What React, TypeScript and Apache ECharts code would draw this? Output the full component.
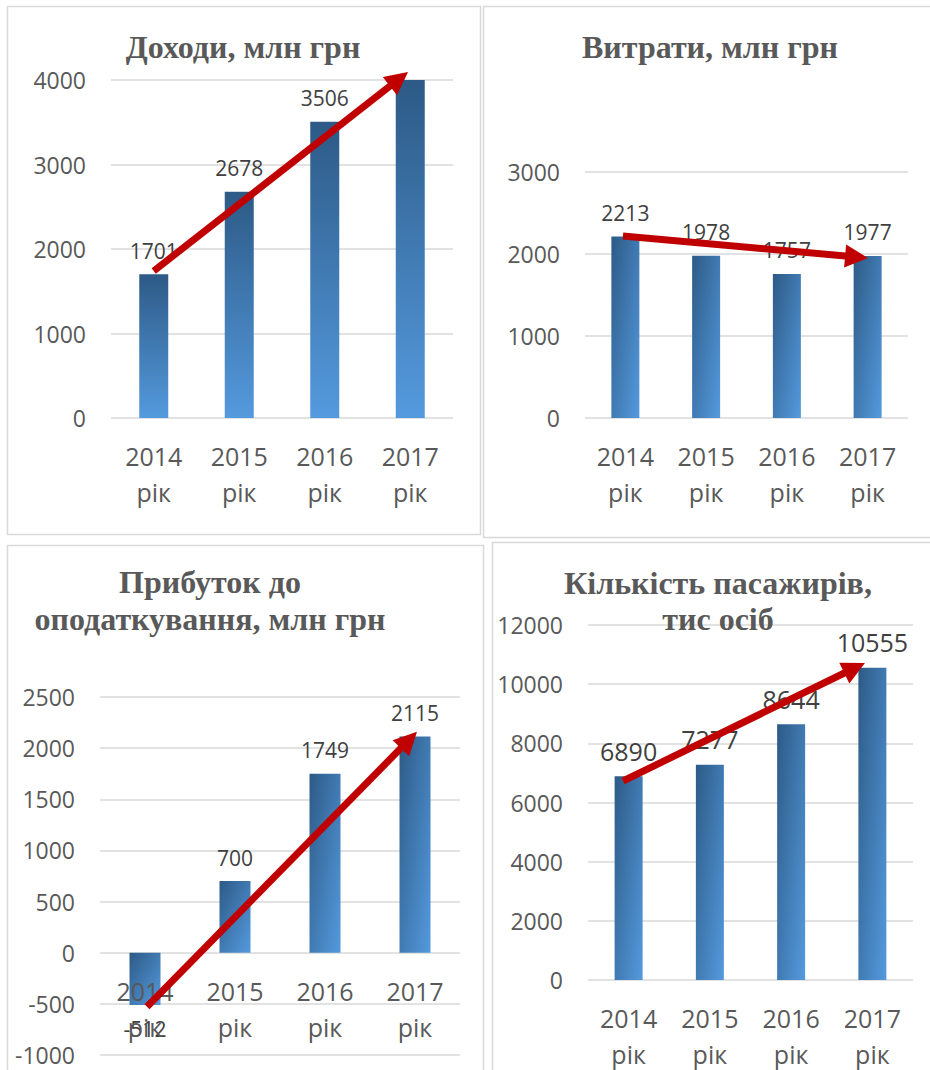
import React, { useEffect, useRef } from 'react';
import * as echarts from 'echarts';

// ---- data ----
const years = ['2014 рік', '2015 рік', '2016 рік', '2017 рік'];
const revenue = [1701, 2678, 3506, 4010];
const expenses = [2213, 1978, 1757, 1977];
const profit = [-512, 700, 1749, 2115];
const passengers = [6890, 7277, 8644, 10555];

// y-axis ticks: [min, max, interval]
const revenueTicks = [0, 4000, 1000];
const expensesTicks = [0, 3000, 1000];
const profitTicks = [-1000, 2500, 500];
const passengersTicks = [0, 12000, 2000];

// trend arrows in data space: [[categoryPos, value] tail, [categoryPos, value] tip]
const revenueArrow = [[0, 1740], [2.974, 4095]];
const expensesArrow = [[-0.03, 2220], [3.005, 1951]];
const profitArrow = [[0.022, -528], [3.022, 2160]];
const passengersArrow = [[-0.069, 6727], [2.909, 10716]];

const titles = [
  ['Доходи, млн грн'],
  ['Витрати, млн грн'],
  ['Прибуток до', 'оподаткування, млн грн'],
  ['Кількість пасажирів,', 'тис осіб'],
];

const SANS = '"Open Sans", "Noto Sans", sans-serif';
const SERIF = '"Liberation Serif", "DejaVu Serif", serif';

type Panel = {
  title: string[];
  titleX: number;
  titleY: number[];
  values: number[];
  ticks: number[];
  arrow: number[][];
  grid: { left: number; top: number; width: number; height: number };
  box: number[];
  barWidth: number;
  labelSize: number;
  vertical: boolean;
  hideLabel: number[];
  belowLabel: number[];
  xLabelOnTop: boolean;
};

const panels: Panel[] = [
  {
    title: titles[0], titleX: 243, titleY: [47], values: revenue, ticks: revenueTicks, arrow: revenueArrow,
    grid: { left: 111, top: 80, width: 342, height: 338 }, box: [7, 6, 473, 528],
    barWidth: 29, labelSize: 21, vertical: true, hideLabel: [3], belowLabel: [], xLabelOnTop: false,
  },
  {
    title: titles[1], titleX: 710, titleY: [47], values: expenses, ticks: expensesTicks, arrow: expensesArrow,
    grid: { left: 585, top: 172, width: 323, height: 246 }, box: [483, 6, 460, 531],
    barWidth: 28, labelSize: 21, vertical: false, hideLabel: [], belowLabel: [], xLabelOnTop: false,
  },
  {
    title: titles[2], titleX: 210, titleY: [582, 619], values: profit, ticks: profitTicks, arrow: profitArrow,
    grid: { left: 100, top: 697, width: 360, height: 358 }, box: [7, 545, 476, 540],
    barWidth: 31, labelSize: 21, vertical: false, hideLabel: [], belowLabel: [0], xLabelOnTop: true,
  },
  {
    title: titles[3], titleX: 718, titleY: [583, 619], values: passengers, ticks: passengersTicks, arrow: passengersArrow,
    grid: { left: 588, top: 625, width: 325, height: 355 }, box: [492, 542, 450, 540],
    barWidth: 28, labelSize: 25, vertical: false, hideLabel: [], belowLabel: [], xLabelOnTop: false,
  },
];

const DARK = '#2d5a86';
const LIGHT = '#549ade';

function buildOption(): any {
  const grid: any[] = [];
  const xAxis: any[] = [];
  const yAxis: any[] = [];
  const series: any[] = [];
  const graphic: any[] = [];

  panels.forEach((p, i) => {
    grid.push({ ...p.grid, containLabel: false, outerBoundsMode: 'none' });
    const [yMin, yMax] = p.ticks;
    // place the category axis on the zero line when the range goes below zero
    const zeroOffset = yMin < 0 ? -p.grid.height * (0 - yMin) / (yMax - yMin) : 0;
    xAxis.push({
      type: 'category',
      gridIndex: i,
      data: years,
      position: 'bottom',
      offset: zeroOffset,
      z: p.xLabelOnTop ? 4 : 0,
      axisLine: { show: false, onZero: false },
      axisTick: { show: false },
      splitLine: { show: false },
      axisLabel: {
        interval: 0,
        margin: 20,
        fontSize: 25,
        lineHeight: 36,
        color: '#595959',
        fontFamily: SANS,
        hideOverlap: false,
        formatter: (v: string) => v.replace(' ', '\n'),
      },
    });
    xAxis.push({
      type: 'value',
      gridIndex: i,
      min: -0.5,
      max: 3.5,
      show: false,
      axisLine: { onZero: false },
      splitLine: { show: false },
    });
    yAxis.push({
      type: 'value',
      gridIndex: i,
      min: p.ticks[0],
      max: p.ticks[1],
      interval: p.ticks[2],
      axisLine: { show: false, onZero: false },
      axisTick: { show: false },
      splitLine: { show: true, lineStyle: { color: '#d9d9d9', width: 1.5 } },
      axisLabel: {
        margin: 25,
        fontSize: 23,
        color: '#595959',
        fontFamily: SANS,
        formatter: (v: number) => String(v),
      },
    });

    const gradient = p.vertical
      ? new echarts.graphic.LinearGradient(0, 0, 0, 1, [
          { offset: 0, color: DARK },
          { offset: 1, color: LIGHT },
        ])
      : new echarts.graphic.LinearGradient(0, 0, 1, 1, [
          { offset: 0, color: DARK },
          { offset: 1, color: LIGHT },
        ]);

    series.push({
      type: 'bar',
      xAxisIndex: i * 2,
      yAxisIndex: i,
      barWidth: p.barWidth,
      z: 2,
      silent: true,
      itemStyle: { color: gradient },
      label: {
        show: true,
        position: 'top',
        distance: 13,
        fontSize: p.labelSize,
        color: '#404040',
        fontFamily: SANS,
      },
      data: p.values.map((v, k) => {
        const item: any = { value: v };
        if (p.hideLabel.includes(k)) item.label = { show: false };
        if (p.belowLabel.includes(k)) item.label = { position: 'bottom' };
        return item;
      }),
    });

    series.push({
      type: 'custom',
      xAxisIndex: i * 2 + 1,
      yAxisIndex: i,
      z: 6,
      silent: true,
      clip: false,
      data: [[p.arrow[0][0], p.arrow[0][1], p.arrow[1][0], p.arrow[1][1]]],
      encode: { x: [0, 2], y: [1, 3] },
      renderItem: (params: any, api: any) => {
        const a = api.coord([api.value(0), api.value(1)]);
        const b = api.coord([api.value(2), api.value(3)]);
        const dx = b[0] - a[0];
        const dy = b[1] - a[1];
        const len = Math.sqrt(dx * dx + dy * dy);
        const ux = dx / len;
        const uy = dy / len;
        const L = 23;
        const W = 11.5;
        const bx = b[0] - ux * L;
        const by = b[1] - uy * L;
        const nx = -uy;
        const ny = ux;
        return {
          type: 'group',
          children: [
            {
              type: 'line',
              shape: { x1: a[0], y1: a[1], x2: bx + ux * 3, y2: by + uy * 3 },
              style: { stroke: '#c00000', lineWidth: 7 },
            },
            {
              type: 'polygon',
              shape: {
                points: [
                  [b[0], b[1]],
                  [bx + nx * W, by + ny * W],
                  [bx - nx * W, by - ny * W],
                ],
              },
              style: { fill: '#c00000' },
            },
          ],
        };
      },
    });

    graphic.push({
      type: 'rect',
      z: -10,
      silent: true,
      shape: { x: p.box[0] + 0.5, y: p.box[1] + 0.5, width: p.box[2], height: p.box[3] },
      style: { fill: '#ffffff', stroke: '#d9d9d9', lineWidth: 1.5 },
    });
    p.title.forEach((t, k) => {
      graphic.push({
        type: 'text',
        z: 10,
        silent: true,
        x: p.titleX,
        y: p.titleY[k],
        style: {
          text: t,
          fill: '#595959',
          font: `bold 32px ${SERIF}`,
          textAlign: 'center',
          textVerticalAlign: 'middle',
        },
      });
    });
  });

  return {
    animation: false,
    backgroundColor: '#ffffff',
    grid,
    xAxis,
    yAxis,
    series,
    graphic,
  };
}

export default function App() {
  const ref = useRef<HTMLDivElement>(null);
  useEffect(() => {
    if (!ref.current) return;
    const chart = echarts.init(ref.current, undefined, { renderer: 'svg' });
    chart.setOption(buildOption());
    return () => chart.dispose();
  }, []);
  return (
    <div
      ref={ref}
      style={{ position: 'absolute', left: 0, top: 0, width: 930, height: 1070, background: '#fff' }}
    />
  );
}
